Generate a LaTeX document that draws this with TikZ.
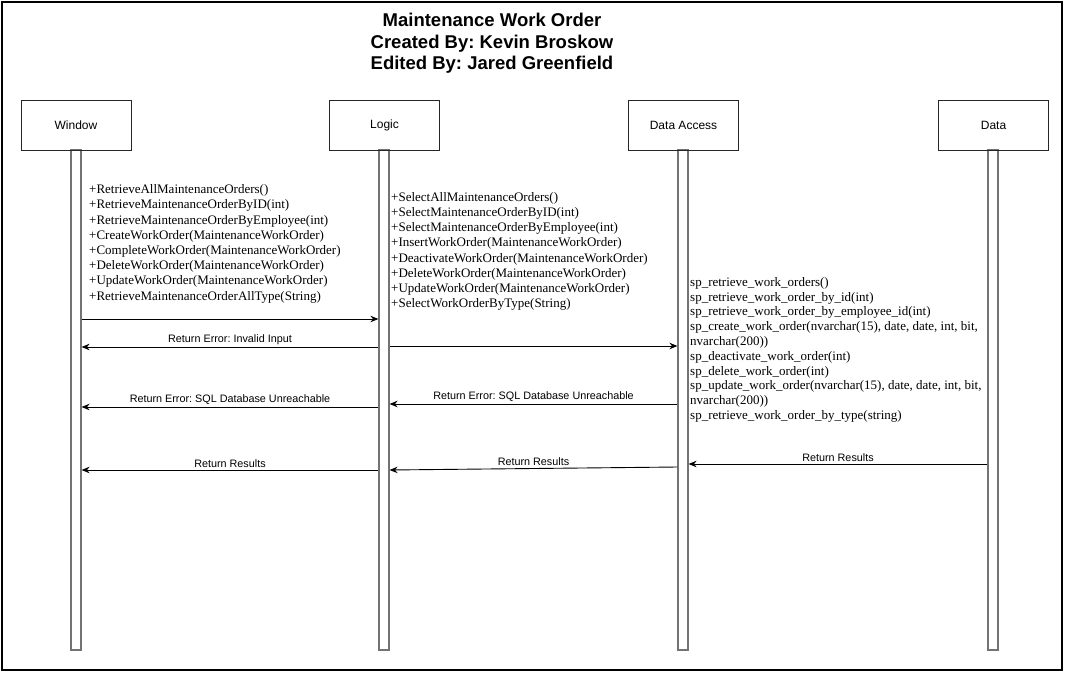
\documentclass[tikz,border=0pt]{standalone}
\usepackage{fontspec}
\setmainfont{Liberation Serif}
\setsansfont{Liberation Sans}
\usetikzlibrary{arrows.meta}
\frenchspacing
\begin{document}
\begin{tikzpicture}[x=1pt,y=-1pt,
 head/.style={draw=black!85, line width=0.9pt, minimum width=110pt, minimum height=50pt, font=\sffamily\fontsize{12}{14}\selectfont, inner sep=0},
 life/.style={draw=black!55, line width=1.2pt, fill=white, minimum width=10pt, minimum height=500pt, inner sep=0},
 msg/.style={draw=black, line width=0.9pt, -{Stealth[length=8pt,width=6.5pt]}},
 lbl/.style={font=\sffamily\fontsize{10.8}{12}\selectfont, above, inner sep=2pt},
 list/.style={font=\rmfamily\fontsize{13}{15.2}\selectfont, align=left, anchor=north west, inner sep=0}]
\useasboundingbox (0,0) rectangle (1081,672);
\draw[line width=1.2pt] (2,2) rectangle (1062,670);
\node[font=\sffamily\bfseries\fontsize{18.5}{21.5}\selectfont, align=center, inner sep=0] (title) at (492,43.5) {Maintenance Work Order\\Created By: Kevin Broskow\\ Edited By: Jared Greenfield};
% lifelines
\node[life] (wl) at (76,400) {};
\node[life] (ll) at (384,400) {};
\node[life] (dl) at (683,400) {};
\node[life] (tl) at (993,400) {};
% heads
\node[head] (wh) at (76,125) {Window};
\node[head] (lh) at (384.5,125) {Logic};
\node[head] (dh) at (683.5,125) {Data Access};
\node[head] (th) at (993.5,125) {Data};
% lists
\node[list] (wlist) at (89,184.5) {+RetrieveAllMaintenanceOrders()\\+RetrieveMaintenanceOrderByID(int)\\+RetrieveMaintenanceOrderByEmployee(int)\\+CreateWorkOrder(MaintenanceWorkOrder)\\+CompleteWorkOrder(MaintenanceWorkOrder)\\+DeleteWorkOrder(MaintenanceWorkOrder)\\+UpdateWorkOrder(MaintenanceWorkOrder)\\+RetrieveMaintenanceOrderAllType(String)};
\node[list] (llist) at (391,192) {+SelectAllMaintenanceOrders()\\+SelectMaintenanceOrderByID(int)\\+SelectMaintenanceOrderByEmployee(int)\\+InsertWorkOrder(MaintenanceWorkOrder)\\+DeactivateWorkOrder(MaintenanceWorkOrder)\\+DeleteWorkOrder(MaintenanceWorkOrder)\\+UpdateWorkOrder(MaintenanceWorkOrder)\\+SelectWorkOrderByType(String)};
\node[list, font=\rmfamily\fontsize{13}{14.8}\selectfont] (dlist) at (690,277) {sp\_retrieve\_work\_orders()\\sp\_retrieve\_work\_order\_by\_id(int)\\sp\_retrieve\_work\_order\_by\_employee\_id(int)\\sp\_create\_work\_order(nvarchar(15), date, date, int, bit,\\nvarchar(200))\\sp\_deactivate\_work\_order(int)\\sp\_delete\_work\_order(int)\\sp\_update\_work\_order(nvarchar(15), date, date, int, bit,\\nvarchar(200))\\sp\_retrieve\_work\_order\_by\_type(string)};
% messages
\draw[msg] (wl.east |- 0,319) -- (ll.west |- 0,319);
\draw[msg] (ll.west |- 0,347) -- node[lbl]{Return Error: Invalid Input} (wl.east |- 0,347);
\draw[msg] (ll.east |- 0,346) -- (dl.west |- 0,346);
\draw[msg] (ll.west |- 0,407) -- node[lbl]{Return Error: SQL Database Unreachable} (wl.east |- 0,407);
\draw[msg] (dl.west |- 0,404) -- node[lbl]{Return Error: SQL Database Unreachable} (ll.east |- 0,404);
\draw[msg] (ll.west |- 0,470) -- node[lbl]{Return Results} (wl.east |- 0,470);
\draw[msg] (dl.west |- 0,467) -- node[lbl]{Return Results} (ll.east |- 0,470);
\draw[msg] (tl.west |- 0,464) -- node[lbl]{Return Results} (dl.east |- 0,464);
\end{tikzpicture}
\end{document}
